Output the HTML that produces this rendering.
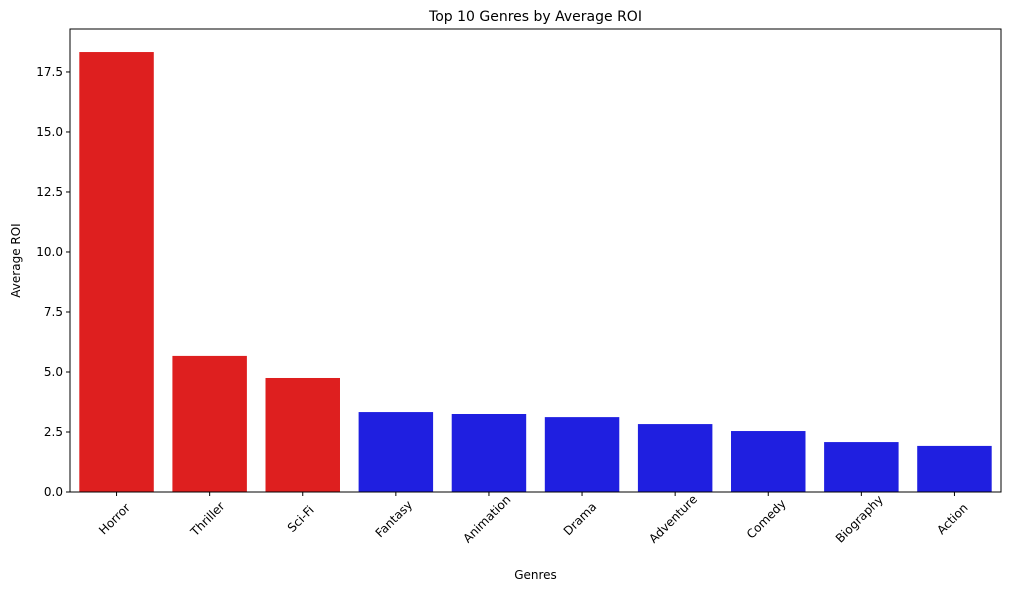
<!DOCTYPE html>
<html><head><meta charset="utf-8"><style>
body{margin:0;background:#fff;font-family:"Liberation Sans","DejaVu Sans",sans-serif;}
</style></head><body>
<svg id="chart" width="1010" height="592" xmlns="http://www.w3.org/2000/svg" font-family="DejaVu Sans, Liberation Sans, sans-serif">
<text x="535.5" y="21" text-anchor="middle" font-size="14">Top 10 Genres by Average ROI</text>
<g id="bars"></g>
<g id="yticks"></g>
<g id="xticks"></g>
<rect x="70" y="29" width="931" height="463" fill="none" stroke="#000" stroke-width="1"/>
<text x="535.5" y="579" text-anchor="middle" font-size="12">Genres</text>
<text transform="translate(20,260.5) rotate(-90)" text-anchor="middle" font-size="12">Average ROI</text>
</svg>
<script>
const categories=["Horror","Thriller","Sci-Fi","Fantasy","Animation","Drama","Adventure","Comedy","Biography","Action"];
const values=[18.33,5.67,4.75,3.33,3.25,3.12,2.83,2.54,2.08,1.92];
const highlighted=[true,true,true,false,false,false,false,false,false,false];
const yTicks=[0,2.5,5,7.5,10,12.5,15,17.5];
const yTickLabels=["0.0","2.5","5.0","7.5","10.0","12.5","15.0","17.5"];
const L=70,R=1001,T=29,B=492,yMax=19.29;
const ns="http://www.w3.org/2000/svg";
function y(v){return B-(v/yMax)*(B-T);}
const band=(R-L)/categories.length;
function x(i){return L+band*i+band/2;}
function mk(t,a,p){const e=document.createElementNS(ns,t);for(const k in a)e.setAttribute(k,a[k]);p.appendChild(e);return e;}
const gb=document.getElementById('bars'),gx=document.getElementById('xticks'),gy=document.getElementById('yticks');
categories.forEach((c,i)=>{
  const w=band*0.8;
  const r=mk('rect',{x:x(i)-w/2,y:y(values[i]),width:w,height:B-y(values[i]),fill:highlighted[i]?'#de1f1f':'#1f1fe0'},gb);
  
  
  mk('line',{x1:x(i),x2:x(i),y1:B,y2:B+4,stroke:'#000'},gx);
  const t=mk('text',{x:0,y:4,'font-size':12,'text-anchor':'middle',transform:`translate(${x(i)-2},${B+27}) rotate(-45)`},gx);
  t.textContent=c;
  
  
});
yTicks.forEach((v,i)=>{
  mk('line',{x1:L-4,x2:L,y1:y(v),y2:y(v),stroke:'#000'},gy);
  const t=mk('text',{x:L-7,y:y(v)+4,'font-size':12,'text-anchor':'end'},gy);
  t.textContent=yTickLabels[i];
  
  
});
</script>
</body></html>
